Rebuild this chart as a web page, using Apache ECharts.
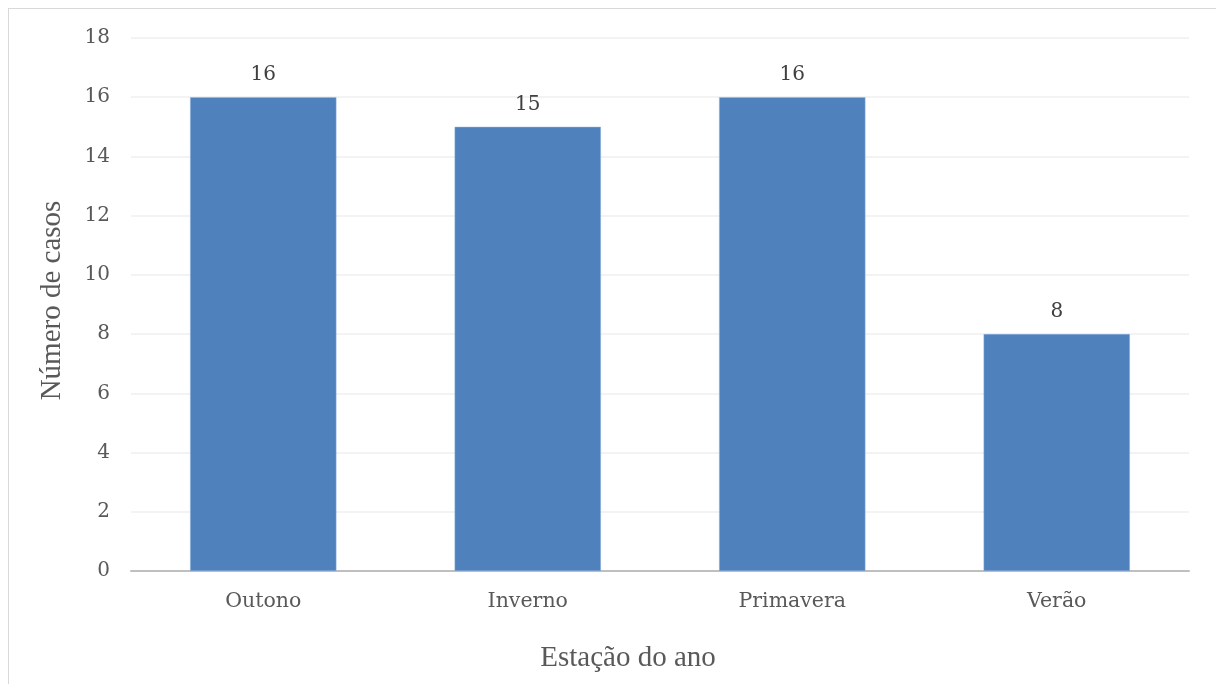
<!DOCTYPE html>
<html>
<head>
<meta charset="utf-8">
<script src="https://cdn.jsdelivr.net/npm/echarts@6/dist/echarts.min.js"></script>
<style>
html,body{margin:0;padding:0;background:#fff;overflow:hidden;}
#frame{position:absolute;left:8px;top:8px;width:1300px;height:800px;border:1.5px solid #d9d9d9;box-sizing:border-box;}
#chart{position:absolute;left:0;top:0;width:1216px;height:684px;}
</style>
</head>
<body>
<div id="frame"></div>
<div id="chart"></div>
<script>
const categories = ["Outono", "Inverno", "Primavera", "Verão"];
const casos = [16, 15, 16, 8];
const yTitle = "Número de casos";
const xTitle = "Estação do ano";

const chart = echarts.init(document.getElementById('chart'));
const serif = "DejaVu Serif";
const times = "Liberation Serif";
chart.setOption({
  animation: false,
  grid: {left: 131, right: 27, top: 38, bottom: 113},
  xAxis: {
    type: 'category',
    data: categories,
    name: xTitle,
    nameLocation: 'middle',
    nameGap: 73,
    nameTextStyle: {fontFamily: times, fontSize: 29, color: '#595959', padding: [0, 64, 0, 0]},
    axisLine: {lineStyle: {color: '#bfbfbf', width: 2}},
    axisTick: {show: false},
    axisLabel: {fontFamily: serif, fontSize: 20.5, color: '#595959', margin: 20}
  },
  yAxis: {
    type: 'value',
    min: 0, max: 18, interval: 2,
    name: yTitle,
    nameLocation: 'middle',
    nameGap: 64,
    nameTextStyle: {fontFamily: times, fontSize: 29, color: '#595959', padding: [0, 0, 0, 8]},
    axisLine: {show: false},
    axisTick: {show: false},
    splitLine: {lineStyle: {color: '#efefef', width: 1.5}},
    axisLabel: {fontFamily: serif, fontSize: 20, color: '#595959', margin: 21}
  },
  series: [{
    type: 'bar',
    data: casos,
    barWidth: '55.3%',
    itemStyle: {color: '#4f81bd', borderColor: '#8db3e2', borderWidth: 0.5},
    label: {show: true, position: 'top', distance: 12, fontFamily: serif, fontSize: 20, color: '#404040'}
  }]
});
</script>
</body>
</html>
